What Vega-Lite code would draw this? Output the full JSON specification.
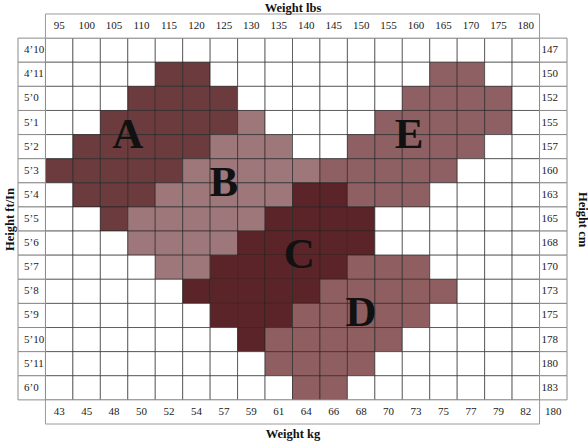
{
"$schema":"https://vega.github.io/schema/vega-lite/v6.json",
"width":549,"height":410,
"autosize":{"type":"none"},
"padding":{"left":18,"top":14,"right":21,"bottom":17},
"background":"white",
"config":{"view":{"stroke":null},"text":{"font":"Liberation Serif","fontSize":11,"color":"#1a1a1a"},"axis":{"titleFont":"Liberation Serif","titleFontSize":12.5,"titleFontWeight":"bold","titleColor":"#111"}},
"resolve":{"axis":{"x":"independent","y":"independent"}},
"datasets":{
"cols":[{"w":"95","kg":"43"},{"w":"100","kg":"45"},{"w":"105","kg":"48"},{"w":"110","kg":"50"},{"w":"115","kg":"52"},{"w":"120","kg":"54"},{"w":"125","kg":"57"},{"w":"130","kg":"59"},{"w":"135","kg":"61"},{"w":"140","kg":"64"},{"w":"145","kg":"66"},{"w":"150","kg":"68"},{"w":"155","kg":"70"},{"w":"160","kg":"73"},{"w":"165","kg":"75"},{"w":"170","kg":"77"},{"w":"175","kg":"79"},{"w":"180","kg":"82"}],
"rows":[{"h":"4’10","cm":"147"},{"h":"4’11","cm":"150"},{"h":"5’0","cm":"152"},{"h":"5’1","cm":"155"},{"h":"5’2","cm":"157"},{"h":"5’3","cm":"160"},{"h":"5’4","cm":"163"},{"h":"5’5","cm":"165"},{"h":"5’6","cm":"168"},{"h":"5’7","cm":"170"},{"h":"5’8","cm":"173"},{"h":"5’9","cm":"175"},{"h":"5’10","cm":"178"},{"h":"5’11","cm":"180"},{"h":"6’0","cm":"183"}],
"boxes":[{"pos":"T"},{"pos":"B"}],
"corner":[{"t":"180"}],
"letters":[{"s":"A","w":"110","h":"5’2","g":1},{"s":"B","w":"125","h":"5’4","g":2},{"s":"C","w":"140","h":"5’7","g":3},{"s":"E","w":"160","h":"5’2","g":3},{"s":"D","w":"150","h":"5’9","g":4}],
"cells":[
{"w":"95","h":"4’10","s":"-"},{"w":"100","h":"4’10","s":"-"},{"w":"105","h":"4’10","s":"-"},{"w":"110","h":"4’10","s":"-"},{"w":"115","h":"4’10","s":"-"},{"w":"120","h":"4’10","s":"-"},{"w":"125","h":"4’10","s":"-"},{"w":"130","h":"4’10","s":"-"},{"w":"135","h":"4’10","s":"-"},{"w":"140","h":"4’10","s":"-"},{"w":"145","h":"4’10","s":"-"},{"w":"150","h":"4’10","s":"-"},{"w":"155","h":"4’10","s":"-"},{"w":"160","h":"4’10","s":"-"},{"w":"165","h":"4’10","s":"-"},{"w":"170","h":"4’10","s":"-"},{"w":"175","h":"4’10","s":"-"},{"w":"180","h":"4’10","s":"-"},
{"w":"95","h":"4’11","s":"-"},{"w":"100","h":"4’11","s":"-"},{"w":"105","h":"4’11","s":"-"},{"w":"110","h":"4’11","s":"-"},{"w":"115","h":"4’11","s":"A"},{"w":"120","h":"4’11","s":"A"},{"w":"125","h":"4’11","s":"-"},{"w":"130","h":"4’11","s":"-"},{"w":"135","h":"4’11","s":"-"},{"w":"140","h":"4’11","s":"-"},{"w":"145","h":"4’11","s":"-"},{"w":"150","h":"4’11","s":"-"},{"w":"155","h":"4’11","s":"-"},{"w":"160","h":"4’11","s":"-"},{"w":"165","h":"4’11","s":"E"},{"w":"170","h":"4’11","s":"E"},{"w":"175","h":"4’11","s":"-"},{"w":"180","h":"4’11","s":"-"},
{"w":"95","h":"5’0","s":"-"},{"w":"100","h":"5’0","s":"-"},{"w":"105","h":"5’0","s":"-"},{"w":"110","h":"5’0","s":"A"},{"w":"115","h":"5’0","s":"A"},{"w":"120","h":"5’0","s":"A"},{"w":"125","h":"5’0","s":"A"},{"w":"130","h":"5’0","s":"-"},{"w":"135","h":"5’0","s":"-"},{"w":"140","h":"5’0","s":"-"},{"w":"145","h":"5’0","s":"-"},{"w":"150","h":"5’0","s":"-"},{"w":"155","h":"5’0","s":"-"},{"w":"160","h":"5’0","s":"E"},{"w":"165","h":"5’0","s":"E"},{"w":"170","h":"5’0","s":"E"},{"w":"175","h":"5’0","s":"E"},{"w":"180","h":"5’0","s":"-"},
{"w":"95","h":"5’1","s":"-"},{"w":"100","h":"5’1","s":"-"},{"w":"105","h":"5’1","s":"A"},{"w":"110","h":"5’1","s":"A"},{"w":"115","h":"5’1","s":"A"},{"w":"120","h":"5’1","s":"A"},{"w":"125","h":"5’1","s":"A"},{"w":"130","h":"5’1","s":"B"},{"w":"135","h":"5’1","s":"-"},{"w":"140","h":"5’1","s":"-"},{"w":"145","h":"5’1","s":"-"},{"w":"150","h":"5’1","s":"-"},{"w":"155","h":"5’1","s":"E"},{"w":"160","h":"5’1","s":"E"},{"w":"165","h":"5’1","s":"E"},{"w":"170","h":"5’1","s":"E"},{"w":"175","h":"5’1","s":"E"},{"w":"180","h":"5’1","s":"-"},
{"w":"95","h":"5’2","s":"-"},{"w":"100","h":"5’2","s":"A"},{"w":"105","h":"5’2","s":"A"},{"w":"110","h":"5’2","s":"A"},{"w":"115","h":"5’2","s":"A"},{"w":"120","h":"5’2","s":"A"},{"w":"125","h":"5’2","s":"B"},{"w":"130","h":"5’2","s":"B"},{"w":"135","h":"5’2","s":"B"},{"w":"140","h":"5’2","s":"-"},{"w":"145","h":"5’2","s":"-"},{"w":"150","h":"5’2","s":"E"},{"w":"155","h":"5’2","s":"E"},{"w":"160","h":"5’2","s":"E"},{"w":"165","h":"5’2","s":"E"},{"w":"170","h":"5’2","s":"E"},{"w":"175","h":"5’2","s":"-"},{"w":"180","h":"5’2","s":"-"},
{"w":"95","h":"5’3","s":"A"},{"w":"100","h":"5’3","s":"A"},{"w":"105","h":"5’3","s":"A"},{"w":"110","h":"5’3","s":"A"},{"w":"115","h":"5’3","s":"A"},{"w":"120","h":"5’3","s":"B"},{"w":"125","h":"5’3","s":"B"},{"w":"130","h":"5’3","s":"B"},{"w":"135","h":"5’3","s":"B"},{"w":"140","h":"5’3","s":"B"},{"w":"145","h":"5’3","s":"E"},{"w":"150","h":"5’3","s":"E"},{"w":"155","h":"5’3","s":"E"},{"w":"160","h":"5’3","s":"E"},{"w":"165","h":"5’3","s":"E"},{"w":"170","h":"5’3","s":"-"},{"w":"175","h":"5’3","s":"-"},{"w":"180","h":"5’3","s":"-"},
{"w":"95","h":"5’4","s":"-"},{"w":"100","h":"5’4","s":"A"},{"w":"105","h":"5’4","s":"A"},{"w":"110","h":"5’4","s":"A"},{"w":"115","h":"5’4","s":"B"},{"w":"120","h":"5’4","s":"B"},{"w":"125","h":"5’4","s":"B"},{"w":"130","h":"5’4","s":"B"},{"w":"135","h":"5’4","s":"B"},{"w":"140","h":"5’4","s":"C"},{"w":"145","h":"5’4","s":"C"},{"w":"150","h":"5’4","s":"E"},{"w":"155","h":"5’4","s":"E"},{"w":"160","h":"5’4","s":"E"},{"w":"165","h":"5’4","s":"-"},{"w":"170","h":"5’4","s":"-"},{"w":"175","h":"5’4","s":"-"},{"w":"180","h":"5’4","s":"-"},
{"w":"95","h":"5’5","s":"-"},{"w":"100","h":"5’5","s":"-"},{"w":"105","h":"5’5","s":"A"},{"w":"110","h":"5’5","s":"B"},{"w":"115","h":"5’5","s":"B"},{"w":"120","h":"5’5","s":"B"},{"w":"125","h":"5’5","s":"B"},{"w":"130","h":"5’5","s":"B"},{"w":"135","h":"5’5","s":"C"},{"w":"140","h":"5’5","s":"C"},{"w":"145","h":"5’5","s":"C"},{"w":"150","h":"5’5","s":"C"},{"w":"155","h":"5’5","s":"-"},{"w":"160","h":"5’5","s":"-"},{"w":"165","h":"5’5","s":"-"},{"w":"170","h":"5’5","s":"-"},{"w":"175","h":"5’5","s":"-"},{"w":"180","h":"5’5","s":"-"},
{"w":"95","h":"5’6","s":"-"},{"w":"100","h":"5’6","s":"-"},{"w":"105","h":"5’6","s":"-"},{"w":"110","h":"5’6","s":"B"},{"w":"115","h":"5’6","s":"B"},{"w":"120","h":"5’6","s":"B"},{"w":"125","h":"5’6","s":"B"},{"w":"130","h":"5’6","s":"C"},{"w":"135","h":"5’6","s":"C"},{"w":"140","h":"5’6","s":"C"},{"w":"145","h":"5’6","s":"C"},{"w":"150","h":"5’6","s":"C"},{"w":"155","h":"5’6","s":"-"},{"w":"160","h":"5’6","s":"-"},{"w":"165","h":"5’6","s":"-"},{"w":"170","h":"5’6","s":"-"},{"w":"175","h":"5’6","s":"-"},{"w":"180","h":"5’6","s":"-"},
{"w":"95","h":"5’7","s":"-"},{"w":"100","h":"5’7","s":"-"},{"w":"105","h":"5’7","s":"-"},{"w":"110","h":"5’7","s":"-"},{"w":"115","h":"5’7","s":"B"},{"w":"120","h":"5’7","s":"B"},{"w":"125","h":"5’7","s":"C"},{"w":"130","h":"5’7","s":"C"},{"w":"135","h":"5’7","s":"C"},{"w":"140","h":"5’7","s":"C"},{"w":"145","h":"5’7","s":"C"},{"w":"150","h":"5’7","s":"D"},{"w":"155","h":"5’7","s":"D"},{"w":"160","h":"5’7","s":"D"},{"w":"165","h":"5’7","s":"-"},{"w":"170","h":"5’7","s":"-"},{"w":"175","h":"5’7","s":"-"},{"w":"180","h":"5’7","s":"-"},
{"w":"95","h":"5’8","s":"-"},{"w":"100","h":"5’8","s":"-"},{"w":"105","h":"5’8","s":"-"},{"w":"110","h":"5’8","s":"-"},{"w":"115","h":"5’8","s":"-"},{"w":"120","h":"5’8","s":"C"},{"w":"125","h":"5’8","s":"C"},{"w":"130","h":"5’8","s":"C"},{"w":"135","h":"5’8","s":"C"},{"w":"140","h":"5’8","s":"C"},{"w":"145","h":"5’8","s":"D"},{"w":"150","h":"5’8","s":"D"},{"w":"155","h":"5’8","s":"D"},{"w":"160","h":"5’8","s":"D"},{"w":"165","h":"5’8","s":"D"},{"w":"170","h":"5’8","s":"-"},{"w":"175","h":"5’8","s":"-"},{"w":"180","h":"5’8","s":"-"},
{"w":"95","h":"5’9","s":"-"},{"w":"100","h":"5’9","s":"-"},{"w":"105","h":"5’9","s":"-"},{"w":"110","h":"5’9","s":"-"},{"w":"115","h":"5’9","s":"-"},{"w":"120","h":"5’9","s":"-"},{"w":"125","h":"5’9","s":"C"},{"w":"130","h":"5’9","s":"C"},{"w":"135","h":"5’9","s":"C"},{"w":"140","h":"5’9","s":"D"},{"w":"145","h":"5’9","s":"D"},{"w":"150","h":"5’9","s":"D"},{"w":"155","h":"5’9","s":"D"},{"w":"160","h":"5’9","s":"D"},{"w":"165","h":"5’9","s":"-"},{"w":"170","h":"5’9","s":"-"},{"w":"175","h":"5’9","s":"-"},{"w":"180","h":"5’9","s":"-"},
{"w":"95","h":"5’10","s":"-"},{"w":"100","h":"5’10","s":"-"},{"w":"105","h":"5’10","s":"-"},{"w":"110","h":"5’10","s":"-"},{"w":"115","h":"5’10","s":"-"},{"w":"120","h":"5’10","s":"-"},{"w":"125","h":"5’10","s":"-"},{"w":"130","h":"5’10","s":"C"},{"w":"135","h":"5’10","s":"D"},{"w":"140","h":"5’10","s":"D"},{"w":"145","h":"5’10","s":"D"},{"w":"150","h":"5’10","s":"D"},{"w":"155","h":"5’10","s":"D"},{"w":"160","h":"5’10","s":"-"},{"w":"165","h":"5’10","s":"-"},{"w":"170","h":"5’10","s":"-"},{"w":"175","h":"5’10","s":"-"},{"w":"180","h":"5’10","s":"-"},
{"w":"95","h":"5’11","s":"-"},{"w":"100","h":"5’11","s":"-"},{"w":"105","h":"5’11","s":"-"},{"w":"110","h":"5’11","s":"-"},{"w":"115","h":"5’11","s":"-"},{"w":"120","h":"5’11","s":"-"},{"w":"125","h":"5’11","s":"-"},{"w":"130","h":"5’11","s":"-"},{"w":"135","h":"5’11","s":"D"},{"w":"140","h":"5’11","s":"D"},{"w":"145","h":"5’11","s":"D"},{"w":"150","h":"5’11","s":"D"},{"w":"155","h":"5’11","s":"-"},{"w":"160","h":"5’11","s":"-"},{"w":"165","h":"5’11","s":"-"},{"w":"170","h":"5’11","s":"-"},{"w":"175","h":"5’11","s":"-"},{"w":"180","h":"5’11","s":"-"},
{"w":"95","h":"6’0","s":"-"},{"w":"100","h":"6’0","s":"-"},{"w":"105","h":"6’0","s":"-"},{"w":"110","h":"6’0","s":"-"},{"w":"115","h":"6’0","s":"-"},{"w":"120","h":"6’0","s":"-"},{"w":"125","h":"6’0","s":"-"},{"w":"130","h":"6’0","s":"-"},{"w":"135","h":"6’0","s":"-"},{"w":"140","h":"6’0","s":"D"},{"w":"145","h":"6’0","s":"D"},{"w":"150","h":"6’0","s":"-"},{"w":"155","h":"6’0","s":"-"},{"w":"160","h":"6’0","s":"-"},{"w":"165","h":"6’0","s":"-"},{"w":"170","h":"6’0","s":"-"},{"w":"175","h":"6’0","s":"-"},{"w":"180","h":"6’0","s":"-"}
]},
"layer":[
{"data":{"name":"cells"},"mark":{"type":"rect","stroke":"#222222","strokeOpacity":0.6,"strokeWidth":1},
 "encoding":{
  "x":{"field":"w","type":"nominal","scale":{"type":"band","domain":["L","95","100","105","110","115","120","125","130","135","140","145","150","155","160","165","170","175","180","R"],"paddingInner":0,"paddingOuter":0},"axis":{"orient":"top","title":"Weight lbs","labels":false,"ticks":false,"domain":false,"grid":false,"titlePadding":3,"titleBaseline":"alphabetic"}},
  "y":{"field":"h","type":"nominal","scale":{"type":"band","domain":["T","4’10","4’11","5’0","5’1","5’2","5’3","5’4","5’5","5’6","5’7","5’8","5’9","5’10","5’11","6’0","B"],"paddingInner":0,"paddingOuter":0},"axis":{"orient":"left","title":"Height ft/In","labels":false,"ticks":false,"domain":false,"grid":false,"titlePadding":2}},
  "fill":{"field":"s","type":"nominal","scale":{"domain":["-","A","B","C","D","E"],"range":["#ffffff","#6c3b3e","#9d777a","#5b2428","#8e5e60","#8e6063"]},"legend":null}
 }},
{"data":{"name":"rows"},"mark":{"type":"rect","fill":"white","stroke":"#8c8c8c","strokeWidth":1},
 "encoding":{"x":{"datum":"L","type":"nominal","axis":null},"y":{"field":"h","type":"nominal","axis":null}}},
{"data":{"name":"rows"},"mark":{"type":"rect","fill":"white","stroke":"#8c8c8c","strokeWidth":1},
 "encoding":{"x":{"datum":"R","type":"nominal","axis":null},"y":{"field":"h","type":"nominal","axis":null}}},
{"data":{"name":"boxes"},"mark":{"type":"rect","fill":"white","stroke":"#9a9a9a","strokeWidth":1},
 "encoding":{"x":{"datum":"95","type":"nominal","bandPosition":0,"axis":null},"x2":{"datum":"180","bandPosition":1},"y":{"field":"pos","type":"nominal","axis":null}}},
{"data":{"name":"cols"},"mark":{"type":"text","baseline":"middle"},
 "encoding":{"x":{"field":"w","type":"nominal","axis":null},"y":{"datum":"T","type":"nominal","axis":null},"text":{"field":"w"}}},
{"data":{"name":"cols"},"mark":{"type":"text","baseline":"middle"},
 "encoding":{"x":{"field":"w","type":"nominal","axis":{"orient":"bottom","title":"Weight kg","labels":false,"ticks":false,"domain":false,"grid":false,"titlePadding":3}},"y":{"datum":"B","type":"nominal","axis":null},"text":{"field":"kg"}}},
{"data":{"name":"rows"},"mark":{"type":"text","baseline":"middle","align":"left","dx":6},
 "encoding":{"x":{"datum":"L","type":"nominal","bandPosition":0,"axis":null},"y":{"field":"h","type":"nominal","axis":null},"text":{"field":"h"}}},
{"data":{"name":"rows"},"mark":{"type":"text","baseline":"middle","align":"left","dx":2},
 "encoding":{"x":{"datum":"R","type":"nominal","bandPosition":0,"axis":null},"y":{"field":"h","type":"nominal","axis":{"orient":"right","title":"Height cm","labels":false,"ticks":false,"domain":false,"grid":false,"titlePadding":8}},"text":{"field":"cm"}}},
{"data":{"name":"corner"},"mark":{"type":"text","baseline":"middle"},
 "encoding":{"x":{"datum":"R","type":"nominal","axis":null},"y":{"datum":"B","type":"nominal","axis":null},"text":{"field":"t"}}},
{"data":{"name":"letters"},"transform":[{"filter":"datum.g==1"}],"mark":{"type":"text","fontSize":43,"fontWeight":"bold","baseline":"middle","color":"#111"},
 "encoding":{"x":{"field":"w","type":"nominal","bandPosition":0,"axis":null},"y":{"field":"h","type":"nominal","bandPosition":0,"axis":null},"text":{"field":"s"}}},
{"data":{"name":"letters"},"transform":[{"filter":"datum.g==2"}],"mark":{"type":"text","fontSize":43,"fontWeight":"bold","baseline":"middle","color":"#111"},
 "encoding":{"x":{"field":"w","type":"nominal","bandPosition":0.5,"axis":null},"y":{"field":"h","type":"nominal","bandPosition":0,"axis":null},"text":{"field":"s"}}},
{"data":{"name":"letters"},"transform":[{"filter":"datum.g==3"}],"mark":{"type":"text","fontSize":43,"fontWeight":"bold","baseline":"middle","color":"#111"},
 "encoding":{"x":{"field":"w","type":"nominal","bandPosition":0.25,"axis":null},"y":{"field":"h","type":"nominal","bandPosition":0,"axis":null},"text":{"field":"s"}}},
{"data":{"name":"letters"},"transform":[{"filter":"datum.g==4"}],"mark":{"type":"text","fontSize":43,"fontWeight":"bold","baseline":"middle","color":"#111"},
 "encoding":{"x":{"field":"w","type":"nominal","bandPosition":0.5,"axis":null},"y":{"field":"h","type":"nominal","bandPosition":0.4,"axis":null},"text":{"field":"s"}}}
]
}
